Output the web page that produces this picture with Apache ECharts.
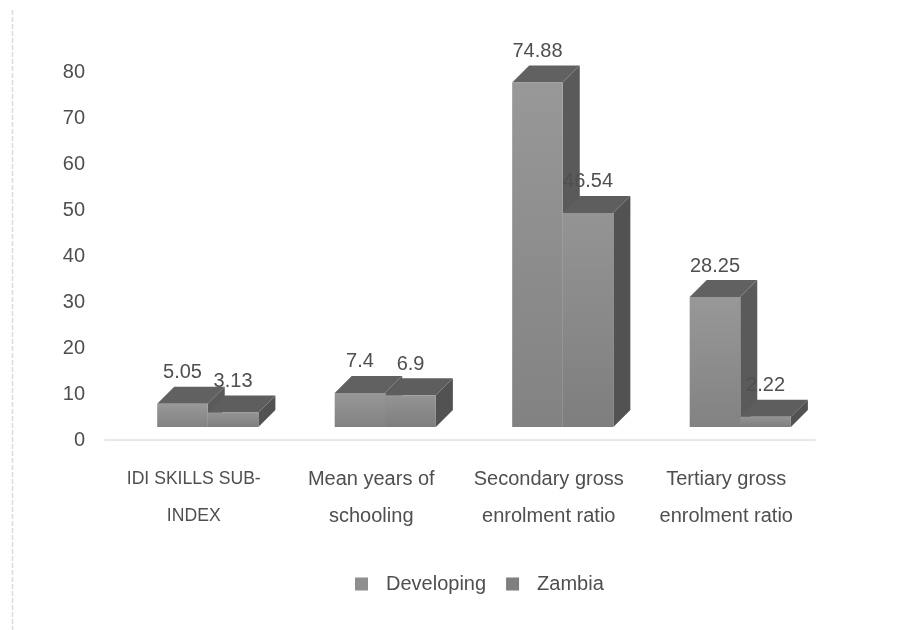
<!DOCTYPE html>
<html>
<head>
<meta charset="utf-8">
<style>
html,body{margin:0;padding:0;background:#fff;}
#c{width:908px;height:630px;filter:blur(0.7px);}
</style>
<script src="https://cdn.jsdelivr.net/npm/echarts@6/dist/echarts.min.js"></script>
</head>
<body>
<div id="c"></div>
<script>
const categories = ['IDI SKILLS SUB-\nINDEX', 'Mean years of\nschooling', 'Secondary gross\nenrolment ratio', 'Tertiary gross\nenrolment ratio'];
const developing = [5.05, 7.4, 74.88, 28.25];
const zambia = [3.13, 6.9, 46.54, 2.22];
const yTicks = {min: 0, max: 80, interval: 10};
const FONT = '"Liberation Sans",sans-serif';
const TEXT = '#4f4f4f';

function bar3d(startFrac, frontColor, topColor, sideColor) {
  return function (params, api) {
    const cat = api.value(0), val = api.value(1);
    const band = api.size([1, 0])[0];
    const c = api.coord([cat, 0]);
    const t = api.coord([cat, val]);
    const w = band * 0.285, d = 17, lift = 13;
    const x0 = c[0] + band * startFrac, x1 = x0 + w;
    const yb = c[1] - lift, yt = t[1] - lift;
    return {
      type: 'group',
      children: [
        {type: 'polygon', shape: {points: [[x1, yt], [x1 + d, yt - d], [x1 + d, yb - d], [x1, yb]]}, style: {fill: sideColor}},
        {type: 'polygon', shape: {points: [[x0, yt], [x0 + d, yt - d], [x1 + d, yt - d], [x1, yt]]}, style: {fill: topColor}},
        {type: 'rect', shape: {x: x0, y: yt, width: w, height: yb - yt},
          style: {fill: new echarts.graphic.LinearGradient(0, 0, 0, 1, [{offset: 0, color: frontColor[0]}, {offset: 1, color: frontColor[1]}])}},
        {type: 'text', z2: 10, style: {x: (x0 + x1) / 2, y: yt - d - 14, text: String(val), fill: TEXT,
          font: '20px ' + FONT, align: 'center', verticalAlign: 'middle'}}
      ]
    };
  };
}

const chart = echarts.init(document.getElementById('c'));
chart.setOption({
  animation: false,
  backgroundColor: '#fff',
  grid: {left: 105, right: 93, top: 72, bottom: 190, containLabel: false},
  xAxis: {
    type: 'category', data: categories,
    axisTick: {show: false},
    axisLine: {lineStyle: {color: '#e0e0e0', width: 1.5, type: [2, 1]}},
    axisLabel: {
      color: TEXT, fontFamily: FONT, fontSize: 20, lineHeight: 37, margin: 21, interval: 0,
      formatter: function (value) {
        return value === value.toUpperCase()
          ? value.split('\n').map(s => '{caps|' + s + '}').join('\n')
          : value;
      },
      rich: {caps: {color: TEXT, fontFamily: FONT, fontSize: 17.6, lineHeight: 37}}
    }
  },
  yAxis: {
    type: 'value', min: yTicks.min, max: yTicks.max, interval: yTicks.interval,
    axisLine: {show: false}, axisTick: {show: false}, splitLine: {show: false},
    axisLabel: {color: TEXT, fontFamily: FONT, fontSize: 20, margin: 20}
  },
  legend: {
    left: 350, top: 569, icon: 'rect', itemWidth: 13, itemHeight: 13, itemGap: 20,
    data: ['Developing', 'Zambia'],
    textStyle: {color: TEXT, fontFamily: FONT, fontSize: 20, padding: [0, 0, 4, 13]}
  },
  graphic: [
    {type: 'line', silent: true, shape: {x1: 12.5, y1: 10, x2: 12.5, y2: 630},
      style: {stroke: '#dcdcdc', lineWidth: 1.5, lineDash: [5, 2]}}
  ],
  series: [
    {name: 'Developing', type: 'custom', itemStyle: {color: '#8f8f8f'},
      encode: {x: 0, y: 1},
      data: developing.map((v, i) => [i, v]),
      renderItem: bar3d(-0.206, ['#989898', '#828282'], '#616161', '#5a5a5a')},
    {name: 'Zambia', type: 'custom', itemStyle: {color: '#7f7f7f'},
      encode: {x: 0, y: 1},
      data: zambia.map((v, i) => [i, v]),
      renderItem: bar3d(0.079, ['#949494', '#7e7e7e'], '#5e5e5e', '#525252')}
  ]
});
</script>
</body>
</html>
